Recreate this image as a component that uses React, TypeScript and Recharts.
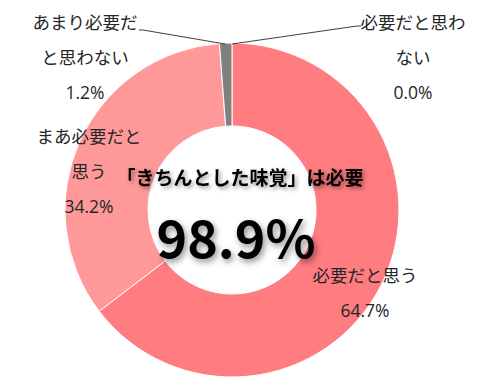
import { PieChart, Pie, Cell } from "recharts";

// 回答の区分と割合
const categories = [
  "必要だと思う",
  "まあ必要だと思う",
  "あまり必要だと思わない",
  "必要だと思わない",
];
const values = [64.7, 34.2, 1.2, 0.0];
const valueLabels = ["64.7%", "34.2%", "1.2%", "0.0%"];
// Excel風に折り返したラベル
const wrappedNames = [
  ["必要だと思う"],
  ["まあ必要だと", "思う"],
  ["あまり必要だ", "と思わない"],
  ["必要だと思わ", "ない"],
];
const colors = ["#FF7C80", "#FF9999", "#808080", "#BFBFBF"];
const centerTitle = "「きちんとした味覚」は必要";
const centerValue = "98.9%";

const data = categories.map((name, i) => ({ name, value: values[i] }));

const W = 503;
const H = 385;
const CX = 232;
const CY = 210;
const FONT = "'Noto Sans CJK JP', 'Noto Sans', sans-serif";
const LABEL_FONT = "'Open Sans', 'Noto Sans CJK JP', sans-serif";

// ラベル位置（中心からのオフセット、1行目のベースライン）
const LABEL_OFFSET = [
  { dx: 133, dy: 72, line: null },
  { dx: -143, dy: -67, line: null },
  { dx: -147, dy: -181, line: { dx: -89, dy: -180 } },
  { dx: 181, dy: -181, line: { dx: 125, dy: -184 } },
];
const LINE_STEP = 35;

function renderLabel(props: any) {
  const { cx, cy, midAngle, outerRadius, index } = props;
  const o = LABEL_OFFSET[index];
  if (!o) return null;
  const rows = [...wrappedNames[index], valueLabels[index]];
  const RAD = Math.PI / 180;
  const px = cx + (outerRadius - 1) * Math.cos(-midAngle * RAD);
  const py = cy + (outerRadius - 1) * Math.sin(-midAngle * RAD);
  return (
    <g key={`lbl-${index}`}>
      {o.line && (
        <polyline
          points={`${px},${py} ${cx + o.line.dx},${cy + o.line.dy} ${
            cx + o.line.dx + (o.line.dx > 0 ? 4 : -4)
          },${cy + o.line.dy}`}
          fill="none"
          stroke="#404040"
          strokeWidth={1}
        />
      )}
      {rows.map((t, i) => (
        <text
          key={i}
          x={cx + o.dx}
          y={cy + o.dy + i * LINE_STEP}
          textAnchor="middle"
          fontSize={17.5}
          fontFamily={LABEL_FONT}
          fill="#262626"
        >
          {t}
        </text>
      ))}
    </g>
  );
}

export default function App() {
  return (
    <div
      style={{
        position: "fixed",
        left: 0,
        top: 0,
        width: W,
        height: H,
        background: "#fff",
      }}
    >
      <PieChart width={W} height={H} margin={{ top: 0, right: 0, bottom: 0, left: 0 }}>
        <Pie
          data={data}
          dataKey="value"
          nameKey="name"
          cx={CX}
          cy={CY}
          innerRadius={84}
          outerRadius={167}
          startAngle={90}
          endAngle={-270}
          stroke="#fff"
          strokeWidth={1}
          label={renderLabel}
          labelLine={false}
          isAnimationActive={false}
        >
          {data.map((d, i) => (
            <Cell key={d.name} fill={colors[i]} />
          ))}
        </Pie>
      </PieChart>
      <svg
        width={W}
        height={H}
        style={{ position: "absolute", left: 0, top: 0, pointerEvents: "none" }}
      >
        <text
          x={240}
          y={185}
          textAnchor="middle"
          fontSize={19}
          fontWeight={700}
          fontFamily={FONT}
          fill="#000"
          style={{ filter: "drop-shadow(2px 2px 2px rgba(0,0,0,0.45))" }}
        >
          {centerTitle}
        </text>
        <text
          x={236}
          y={258}
          textAnchor="middle"
          fontSize={52}
          fontWeight={700}
          fontFamily={FONT}
          fill="#000"
          style={{ filter: "drop-shadow(2px 3px 3px rgba(0,0,0,0.45))" }}
        >
          {centerValue}
        </text>
      </svg>
    </div>
  );
}
